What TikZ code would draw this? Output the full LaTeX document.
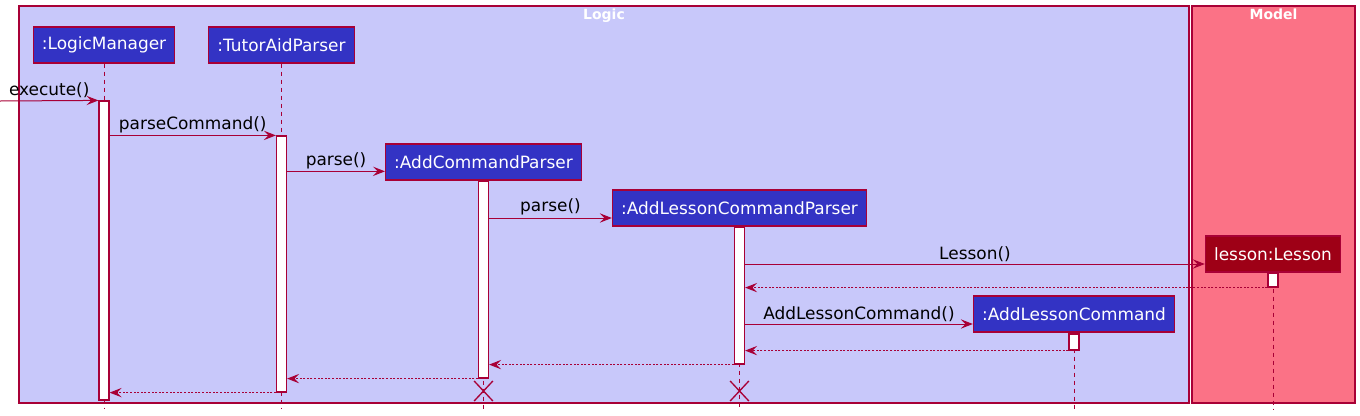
\documentclass[tikz,border=0pt]{standalone}
\usepackage{fontspec}
\setmainfont{DejaVu Sans}
\usetikzlibrary{arrows.meta,shapes.misc}
\definecolor{umlborder}{RGB}{168,0,54}
\definecolor{logicbg}{RGB}{200,200,250}
\definecolor{modelbg}{RGB}{251,114,134}
\definecolor{partblue}{RGB}{51,51,196}
\definecolor{lessonred}{RGB}{158,0,22}
\tikzset{
	frame/.style={draw=umlborder, line width=0.8pt},
	frametitle/.style={text=white, font=\fontsize{10.5}{12}\selectfont\bfseries, anchor=north, inner sep=1pt},
	part/.style={draw=umlborder, fill=partblue, text=white, line width=0.9pt, minimum height=27pt, inner xsep=6.5pt, font=\fontsize{12.7}{15}\selectfont},
	actbar/.style={draw=umlborder, fill=white, line width=0.9pt, minimum width=7.5pt, inner sep=0pt},
	life/.style={draw=umlborder, line width=0.7pt, dash pattern=on 3.5pt off 2.5pt},
	msg/.style={draw=umlborder, line width=0.75pt, -{Stealth[length=9pt,width=7pt,inset=3.5pt]}},
	ret/.style={msg, dash pattern=on 1.5pt off 1.2pt},
	lbl/.style={font=\fontsize{12.7}{15}\selectfont, text=black, above, inner sep=1.5pt},
	kill/.style={cross out, draw=umlborder, line width=1pt, minimum width=13pt, minimum height=14pt, inner sep=0pt}
}
\begin{document}
\begin{tikzpicture}[x=0.75pt,y=-0.75pt]
	\useasboundingbox (0,0) rectangle (1360,415);
	\draw[frame, fill=logicbg] (19,6) rectangle (1189,403);
	\draw[frame, fill=modelbg] (1192,6) rectangle (1355,403);
	\node[frametitle] (tLogic) at (604,7) {Logic};
	\node[frametitle] (tModel) at (1273.5,7) {Model};
	
	\node[part] (lm) at (104,45) {:LogicManager};
	\node[part] (tp) at (281.5,45) {:TutorAidParser};
	\node[part] (acp) at (483.5,162) {:AddCommandParser};
	\node[part] (alcp) at (739.5,208) {:AddLessonCommandParser};
	\node[part, fill=lessonred] (les) at (1273,254) {lesson:Lesson};
	\node[part] (alc) at (1074,314) {:AddLessonCommand};
	
	\coordinate (bot) at (0,409);
	\draw[life] (lm.south) -- (lm.south |- bot);
	\draw[life] (tp.south) -- (tp.south |- bot);
	\draw[life] (acp.south) -- (acp.south |- bot);
	\draw[life] (alcp.south) -- (alcp.south |- bot);
	\draw[life] (les.south) -- (les.south |- bot);
	\draw[life] (alc.south) -- (alc.south |- bot);
	
	\node[actbar, minimum height=224.25pt] (aLM) at (104,250.5) {};
	\node[actbar, minimum height=192pt] (aTP) at (281.5,264) {};
	\node[actbar, minimum height=147.75pt] (aACP) at (483.5,279.5) {};
	\node[actbar, minimum height=102.75pt] (aALCP) at (739.5,295.5) {};
	\node[actbar, minimum height=10.5pt] (aLes) at (1273,280) {};
	\node[actbar, minimum height=12pt] (aALC) at (1074,342) {};
	
	\node[kill] (xACP) at (483.5,391) {};
	\node[kill] (xALCP) at (739.5,391) {};
	
	\coordinate (src) at (0,101);
	\coordinate (mACP) at ([yshift=-7pt]acp.west);
	\coordinate (mALCP) at ([yshift=-7.5pt]alcp.west);
	\coordinate (mLes) at ([yshift=-7.5pt]les.west);
	\coordinate (mALC) at ([yshift=-7.5pt]alc.west);
	
	\draw[msg] (src) -- node[lbl] {execute()} (aLM.north west);
	\draw[msg] (aLM.east |- aTP.north) -- node[lbl] {parseCommand()} (aTP.north west);
	\draw[msg] (aTP.east |- mACP) -- node[lbl] {parse()} (mACP);
	\draw[msg] (aACP.east |- mALCP) -- node[lbl] {parse()} (mALCP);
	\draw[msg] (aALCP.east |- mLes) -- node[lbl] {Lesson()} (mLes);
	\draw[ret] (aLes.south west) -- (aALCP.east |- aLes.south);
	\draw[msg] (aALCP.east |- mALC) -- node[lbl] {AddLessonCommand()} (mALC);
	\draw[ret] (aALC.south west) -- (aALCP.east |- aALC.south);
	\draw[ret] (aALCP.south west) -- (aACP.east |- aALCP.south);
	\draw[ret] (aACP.south west) -- (aTP.east |- aACP.south);
	\draw[ret] (aTP.south west) -- (aLM.east |- aTP.south);
\end{tikzpicture}
\end{document}
